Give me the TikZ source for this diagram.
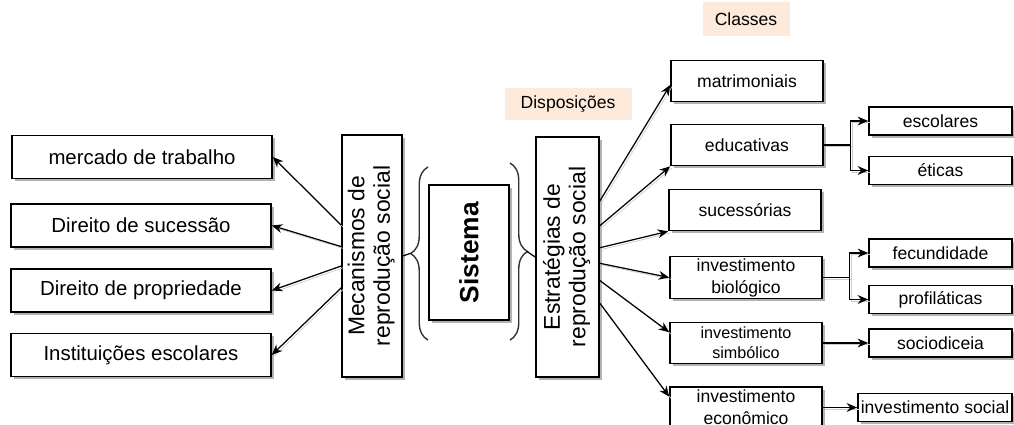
\documentclass[tikz,border=0pt]{standalone}
\usepackage{fontspec}
\setmainfont{Liberation Sans}
\usetikzlibrary{arrows.meta,positioning,calc,shadows,decorations.pathreplacing}
\definecolor{tagfill}{RGB}{253,234,218}
\tikzset{
    >={Stealth[length=6pt,width=5pt]},
    box/.style={draw,fill=white,line width=0.9pt,inner sep=1pt,align=center,
        drop shadow={shadow xshift=1.5pt,shadow yshift=-1.5pt,opacity=0.3,fill=black}},
    leftbox/.style={box,minimum width=52mm,minimum height=8.6mm,font=\fontsize{11.6}{13.5}\selectfont},
    classbox/.style={box,minimum width=30.4mm,minimum height=8.2mm,font=\fontsize{10}{12.5}\selectfont},
    subbox/.style={box,minimum width=28.6mm,minimum height=5.6mm,font=\fontsize{10}{12}\selectfont},
    vbox/.style={box,font=\fontsize{13}{14.5}\selectfont},
    tagbox/.style={fill=tagfill,font=\fontsize{10}{12}\selectfont},
    link/.style={->,line width=0.7pt,preaction={draw=black!20,-,transform canvas={shift={(1pt,-1pt)}}}},
    plain/.style={line width=0.7pt},
    brace/.style={decorate,decoration={brace,amplitude=3.5mm},line width=0.8pt,black!80}
}
\begin{document}
\begin{tikzpicture}[x=0.2mm,y=-0.2mm]
    \clip (0,0) rectangle (1014,425);

    % left side
    \node[leftbox] (mercado) at (142,157) {mercado de trabalho};
    \node[leftbox] (sucessao) at (141,225.5) {Direito de sucessão};
    \node[leftbox] (propriedade) at (141,290.5) {Direito de propriedade};
    \node[leftbox] (instituicoes) at (141,355) {Instituições escolares};

    % middle
    \node[vbox,minimum width=12mm,minimum height=48.4mm] (mec) at (372,256)
        {\rotatebox{90}{\begin{tabular}{@{}c@{}}Mecanismos de\\reprodução social\end{tabular}}};
    \node[vbox,minimum width=16mm,minimum height=27mm,font=\fontsize{15}{17}\selectfont\bfseries] (sis) at (469,252.5)
        {\rotatebox{90}{Sistema}};
    \node[vbox,minimum width=12.6mm,minimum height=48mm] (estr) at (567.5,257)
        {\rotatebox{90}{\begin{tabular}{@{}c@{}}Estratégias de\\reprodução social\end{tabular}}};

    \draw[brace] (428,340) -- (428,167);
    \draw[brace] (510,163) -- (510,340);
    \coordinate (ltip) at (410,253.5);
    \coordinate (rtip) at (527,251.5);

    \node[tagbox,minimum width=25.4mm,minimum height=6.4mm] (dispo) at (568,104) {Disposições};
    \node[tagbox,minimum width=17.4mm,minimum height=6.8mm] (classes) at (746,19) {Classes};

    % right side
    \node[classbox] (matri) at (747,81) {matrimoniais};
    \node[classbox] (educ) at (747,145) {educativas};
    \node[classbox] (sucess) at (745,210) {sucessórias};
    \node[classbox] (biolog) at (746,277.5) {investimento\\biológico};
    \node[classbox,font=\fontsize{9.2}{11.4}\selectfont] (simbol) at (746,343) {investimento\\simbólico};
    \node[classbox] (econom) at (746,407.5) {investimento\\econômico};

    \node[subbox] (escol) at (940.5,121) {escolares};
    \node[subbox] (eticas) at (940.5,170.5) {éticas};
    \node[subbox] (fecund) at (940.5,253) {fecundidade};
    \node[subbox] (profil) at (940.5,299.5) {profiláticas};
    \node[subbox] (socio) at (940.5,343) {sociodiceia};
    \node[subbox,minimum width=30.8mm] (social) at (935,407.5) {investimento social};

    % connectors
    \draw[link] (mec.135) -- (mercado.east);
    \draw[link] (mec.163) -- (sucessao.east);
    \draw[link] (mec.198) -- (propriedade.east);
    \draw[link] (mec.226) -- (instituicoes.east);
    \draw[plain] (mec.east) -- (ltip);
    \draw[plain] (rtip) -- (estr.west);

    \draw[link] (estr.60) -- (matri.183);
    \draw[link] (estr.44) -- (educ.south west);
    \draw[link] (estr.16) -- (sucess.south west);
    \draw[link] (estr.-11) -- (biolog.west);
    \draw[link] (estr.-36) -- (simbol.172);
    \draw[link] (estr.-55) -- (econom.172);

    \draw[link] (educ.east) -- ++(27,0) |- (escol.west);
    \draw[link] (educ.east) -- ++(27,0) |- (eticas.west);
    \draw[link] (biolog.east) -- ++(27,0) |- (fecund.west);
    \draw[link] (biolog.east) -- ++(27,0) |- (profil.west);
    \draw[link] (simbol.east) -- (socio.west);
    \draw[link] (econom.east) -- (social.west);
\end{tikzpicture}
\end{document}
